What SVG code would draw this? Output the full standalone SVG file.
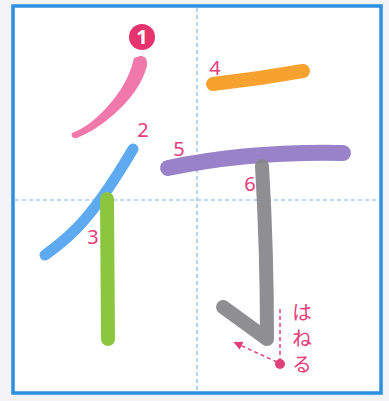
<svg xmlns="http://www.w3.org/2000/svg" width="389" height="401" viewBox="0 0 389 401">
<defs>
<style>
.grid{stroke:#7db6e6;stroke-width:1.2;stroke-dasharray:4 3;fill:none}
.st{fill:none;stroke-linecap:round;stroke-linejoin:round}
.num{font-family:"Noto Sans","DejaVu Sans",sans-serif;font-size:20px;fill:#e2407c}
.jp{font-family:"Noto Sans CJK JP",sans-serif;font-size:20px;fill:#e2407c;writing-mode:vertical-rl;letter-spacing:6px}
.guide{stroke:#e2407c;stroke-width:1.5;stroke-dasharray:4 3;fill:none}
</style>
<marker id="ah" viewBox="0 0 10 10" refX="2" refY="5" markerWidth="9" markerHeight="9" orient="auto-start-reverse" markerUnits="userSpaceOnUse">
<path d="M0,0 L10,5 L0,10 Z" fill="#e2407c"/>
</marker>
</defs>
<rect width="389" height="401" fill="#f3f3f5"/>
<rect x="13" y="6" width="368" height="387" fill="#ffffff" stroke="#2d8fe2" stroke-width="3.5"/>
<g id="grid">
<line class="grid" x1="197" y1="8" x2="197" y2="391"/>
<line class="grid" x1="15" y1="200" x2="379" y2="200"/>
</g>
<g id="stroke1">
<path d="M134,58 Q127,90 96,118 Q85,128 72,133 Q70,139 77,138 Q96,130 112,116 Q140,92 147,66 Q148,55 140,56 Z" fill="#f178aa"/>
</g>
<g id="stroke2">
<path class="st" d="M133,149 Q100,205 76,229 Q62,243 45,255" stroke="#5eaaf0" stroke-width="11"/>
</g>
<g id="stroke3">
<path class="st" d="M107,199 L108,339" stroke="#8cc63f" stroke-width="14"/>
</g>
<g id="stroke4">
<path class="st" d="M213,84 Q258,79 303,71" stroke="#f7a12f" stroke-width="14"/>
</g>
<g id="stroke5">
<path class="st" d="M168,168 Q250,151 343,153" stroke="#9a82c9" stroke-width="16"/>
</g>
<g id="stroke6">
<path class="st" d="M262,166 Q267,250 267,339 L223,307" stroke="#858589" stroke-width="14" stroke-opacity="0.92"/>
</g>
<g id="labels">
<g id="label1">
<circle cx="142" cy="37" r="13" fill="#e6336e"/>
<text x="142" y="44" text-anchor="middle" font-family="'Noto Sans','DejaVu Sans',sans-serif" font-size="20" font-weight="bold" fill="#ffffff">1</text>
</g>
<text class="num" x="143" y="137" text-anchor="middle">2</text>
<text class="num" x="93" y="244" text-anchor="middle">3</text>
<text class="num" x="215" y="75" text-anchor="middle">4</text>
<text class="num" x="179" y="156" text-anchor="middle">5</text>
<text class="num" x="250" y="191" text-anchor="middle">6</text>
</g>
<g id="hane">
<text class="jp" x="302" y="302">はねる</text>
</g>
<g id="connectors">
<line class="guide" x1="280" y1="309" x2="280" y2="360"/>
<line class="guide" x1="277" y1="362" x2="240" y2="345" marker-end="url(#ah)"/>
<circle cx="280" cy="364" r="5" fill="#e2407c"/>
</g>
</svg>
